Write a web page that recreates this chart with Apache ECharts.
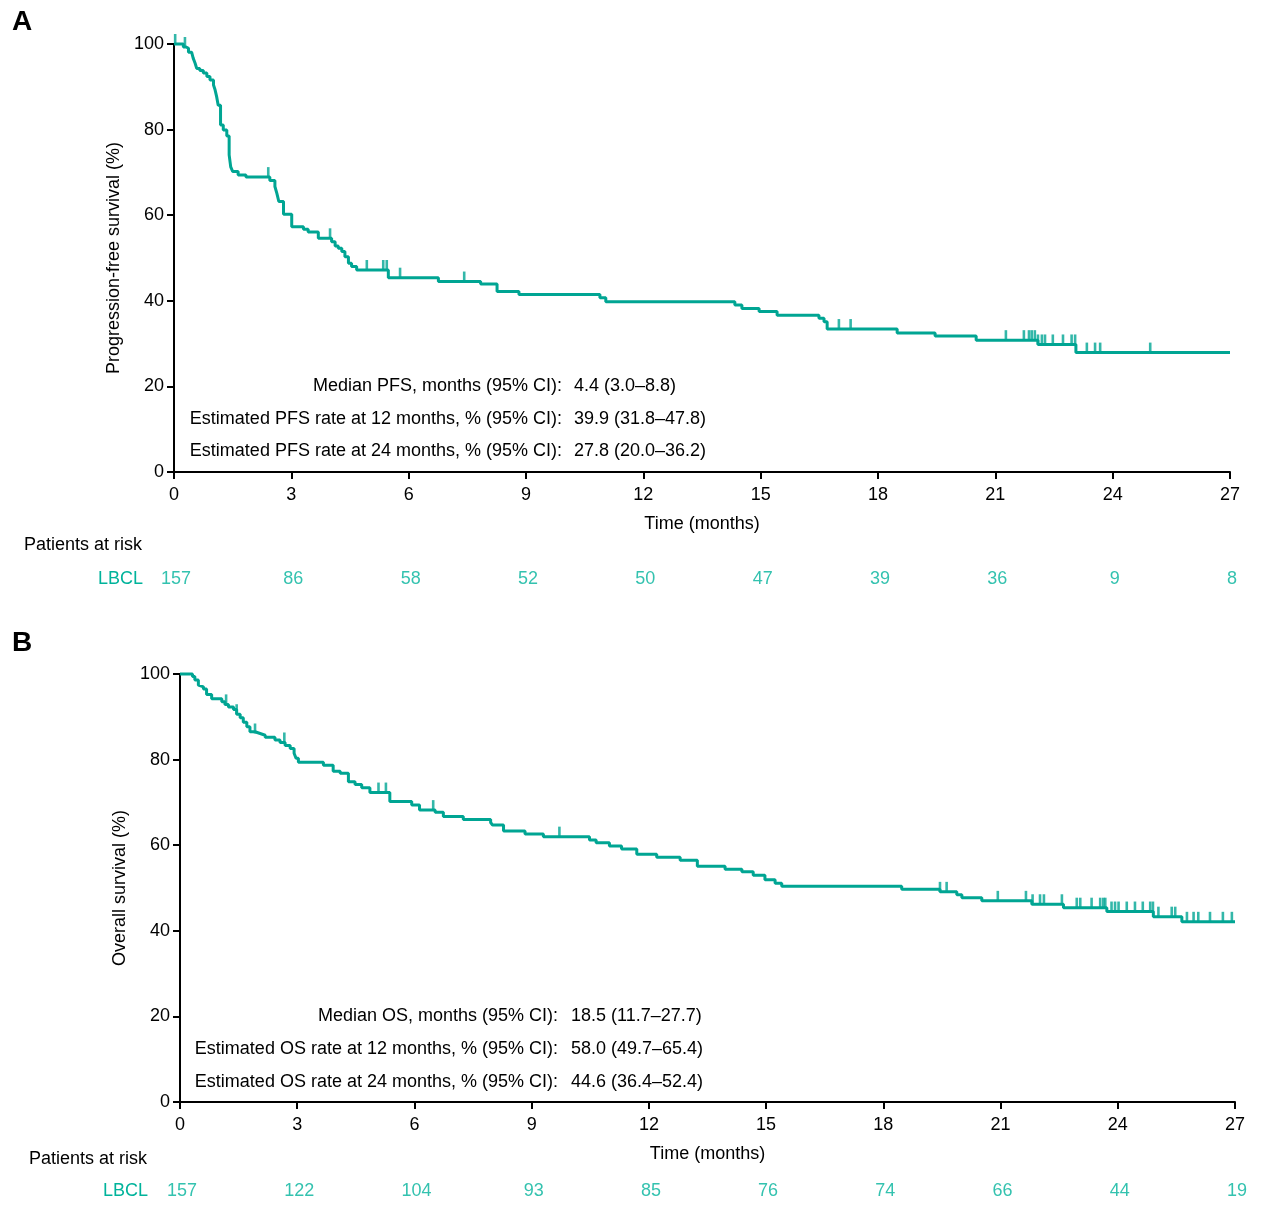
<!DOCTYPE html>
<html>
<head>
<meta charset="utf-8">
<script src="https://cdn.jsdelivr.net/npm/echarts@6/dist/echarts.min.js"></script>
<style>
html,body{margin:0;padding:0;background:#fff;}
#chart{width:1276px;height:1208px;}
</style>
</head>
<body>
<div id="chart"></div>
<script>
// ---------- DATA ----------
const xTicks = [0, 3, 6, 9, 12, 15, 18, 21, 24, 27];
const yTicks = [0, 20, 40, 60, 80, 100];

// Panel A: progression-free survival (step starts: time, survival %)
const pfsTime = [0, 0.24, 0.31, 0.37, 0.45, 0.49, 0.54, 0.58, 0.66, 0.75, 0.84, 0.92, 1.01, 1.05, 1.09, 1.13, 1.19, 1.26, 1.35, 1.41, 1.45, 1.50, 1.64, 1.84, 2.45, 2.58, 2.63, 2.68, 2.80, 3.01, 3.31, 3.43, 3.69, 4.03, 4.12, 4.20, 4.29, 4.37, 4.46, 4.54, 4.67, 5.48, 6.76, 7.84, 8.26, 8.82, 10.89, 11.04, 14.34, 14.52, 14.96, 15.42, 16.49, 16.62, 16.70, 18.49, 19.46, 20.51, 22.09, 23.06, 27.0];
const pfsSurv = [100, 99.3, 99.0, 98.1, 97.7, 96.7, 95.5, 94.3, 93.8, 93.2, 92.4, 91.6, 90.4, 89.3, 87.7, 85.7, 81.1, 79.9, 78.5, 74.1, 71.3, 70.2, 69.4, 68.9, 68.1, 66.7, 65.1, 63.2, 60.2, 57.3, 56.7, 56.1, 54.6, 53.8, 52.8, 52.3, 51.5, 50.3, 48.8, 48.0, 47.2, 45.4, 44.5, 43.9, 42.2, 41.5, 40.7, 39.8, 39.0, 38.2, 37.5, 36.6, 35.9, 35.1, 33.4, 32.5, 31.8, 30.8, 29.8, 27.9, 27.9];
const pfsCensor = [0.03, 0.28, 2.41, 3.99, 4.93, 5.35, 5.44, 5.78, 7.42, 17.0, 17.30, 21.27, 21.73, 21.86, 21.93, 22.01, 22.09, 22.19, 22.27, 22.47, 22.73, 22.95, 23.04, 23.34, 23.55, 23.68, 24.96];
const pfsRisk = [157, 86, 58, 52, 50, 47, 39, 36, 9, 8];

// Panel B: overall survival
const osTime = [0, 0.32, 0.38, 0.47, 0.51, 0.60, 0.68, 0.81, 1.07, 1.15, 1.24, 1.37, 1.45, 1.54, 1.62, 1.71, 1.79, 1.92, 2.05, 2.18, 2.43, 2.56, 2.69, 2.82, 2.92, 2.97, 3.03, 3.67, 3.92, 4.10, 4.31, 4.48, 4.65, 4.86, 5.37, 5.93, 6.13, 6.53, 6.74, 7.25, 7.95, 8.00, 8.28, 8.83, 9.30, 10.48, 10.65, 10.99, 11.30, 11.69, 12.20, 12.80, 13.24, 13.95, 14.38, 14.67, 14.97, 15.23, 15.40, 18.47, 19.45, 19.88, 20.01, 20.52, 21.80, 22.61, 23.72, 24.91, 25.64, 27.0];
const osSurv = [100, 99.4, 98.6, 97.4, 97.0, 96.5, 95.2, 94.2, 93.5, 92.9, 92.3, 91.7, 90.6, 89.8, 88.7, 87.7, 86.5, 86.1, 85.7, 85.2, 84.6, 84.0, 83.3, 82.6, 81.5, 80.3, 79.4, 78.7, 77.3, 76.8, 74.8, 74.2, 73.4, 72.3, 70.2, 69.4, 68.2, 67.7, 66.7, 66.0, 65.3, 64.7, 63.3, 62.6, 62.0, 61.2, 60.6, 59.8, 59.1, 57.9, 57.2, 56.5, 55.1, 54.4, 53.8, 53.0, 51.9, 51.1, 50.4, 49.7, 49.1, 48.4, 47.7, 47.0, 46.2, 45.4, 44.5, 43.3, 42.1, 42.1];
const osCensor = [1.18, 1.45, 1.92, 2.67, 5.08, 5.27, 6.48, 9.71, 19.45, 19.62, 20.93, 21.65, 21.82, 22.01, 22.11, 22.57, 22.95, 23.04, 23.33, 23.55, 23.63, 23.68, 23.84, 23.93, 24.02, 24.23, 24.44, 24.64, 24.83, 24.90, 25.04, 25.38, 25.47, 25.77, 25.94, 26.06, 26.36, 26.69, 26.92];
const osRisk = [157, 122, 104, 93, 85, 76, 74, 66, 44, 19];

const pfsNotes = [
  ['Median PFS, months (95% CI):', '4.4 (3.0\u20138.8)'],
  ['Estimated PFS rate at 12 months, % (95% CI):', '39.9 (31.8\u201347.8)'],
  ['Estimated PFS rate at 24 months, % (95% CI):', '27.8 (20.0\u201336.2)']
];
const osNotes = [
  ['Median OS, months (95% CI):', '18.5 (11.7\u201327.7)'],
  ['Estimated OS rate at 12 months, % (95% CI):', '58.0 (49.7\u201365.4)'],
  ['Estimated OS rate at 24 months, % (95% CI):', '44.6 (36.4\u201352.4)']
];

// ---------- BUILD ----------
const TEAL = '#00a593';
const TEAL_TXT = '#00b39b';
const FONT = '"Liberation Sans", Arial, sans-serif';
const FS = 18;

function survAt(times, surv, t) {
  let v = surv[0];
  for (let i = 0; i < times.length; i++) { if (times[i] <= t + 1e-9) v = surv[i]; }
  return v;
}
const pair = (a, b) => a.map((t, i) => [t, b[i]]);
const censorPts = (c, times, surv) => c.map(t => [t, survAt(times, surv, t)]);
const riskPts = r => xTicks.map((t, i) => [t, 0, r[i]]);

function xAxisPlot(gi, name) {
  return {
    gridIndex: gi, type: 'value', min: 0, max: 27, interval: 3,
    name: name, nameLocation: 'middle', nameGap: 43,
    nameTextStyle: { color: '#000', fontSize: FS, fontFamily: FONT },
    axisLine: { show: true, onZero: false, lineStyle: { color: '#000', width: 2 } },
    axisTick: { show: true, length: 7, lineStyle: { color: '#000', width: 2 } },
    axisLabel: { color: '#000', fontSize: FS, fontFamily: FONT, margin: 14 },
    splitLine: { show: false }
  };
}
function yAxisPlot(gi, name) {
  return {
    gridIndex: gi, type: 'value', min: 0, max: 100, interval: 20,
    name: name, nameLocation: 'middle', nameGap: 48, nameRotate: 90,
    nameTextStyle: { color: '#000', fontSize: FS, fontFamily: FONT },
    axisLine: { show: true, lineStyle: { color: '#000', width: 2 } },
    axisTick: { show: true, length: 7, lineStyle: { color: '#000', width: 2 } },
    axisLabel: { color: '#000', fontSize: FS, fontFamily: FONT, margin: 10 },
    splitLine: { show: false }
  };
}
function xAxisRisk(gi) {
  return { gridIndex: gi, type: 'value', min: 0, max: 27, interval: 3, show: false };
}
function yAxisRisk(gi) {
  return { gridIndex: gi, type: 'value', min: -1, max: 1, show: false };
}
function kmSeries(gi, data) {
  return {
    type: 'line', xAxisIndex: gi, yAxisIndex: gi, step: 'end', data: data,
    showSymbol: false, symbol: 'none', clip: false, animation: false,
    lineStyle: { color: TEAL, width: 3 }, z: 3
  };
}
function censorSeries(gi, data) {
  return {
    type: 'scatter', xAxisIndex: gi, yAxisIndex: gi, data: data, clip: false,
    symbol: 'rect', symbolSize: [2.6, 10], symbolOffset: [0, -5],
    itemStyle: { color: TEAL }, animation: false, z: 4
  };
}
function riskSeries(gi, data) {
  return {
    type: 'scatter', xAxisIndex: gi, yAxisIndex: gi, data: data, symbolSize: 1,
    itemStyle: { color: 'rgba(0,0,0,0)' }, animation: false,
    label: { show: true, position: 'inside', offset: [2, 1], color: TEAL_TXT, fontSize: FS, fontFamily: FONT,
      formatter: p => String(p.value[2]) }
  };
}
function txt(text, x, y, align, color, font) {
  return { type: 'text', x: x, y: y, style: { text: text, textAlign: align, textVerticalAlign: 'middle',
    fill: color || '#000', font: font || (FS + 'px ' + FONT) } };
}
function notes(arr, xr, xl, ys) {
  const out = [];
  arr.forEach((n, i) => { out.push(txt(n[0], xr, ys[i], 'right')); out.push(txt(n[1], xl, ys[i], 'left')); });
  return out;
}

const graphic = [
  txt('A', 12, 22, 'left', '#000', 'bold 28px ' + FONT),
  txt('B', 12, 643, 'left', '#000', 'bold 28px ' + FONT),
  txt('Patients at risk', 24, 545, 'left'),
  txt('Patients at risk', 29, 1159, 'left'),
  txt('LBCL', 143, 579, 'right', TEAL_TXT),
  txt('LBCL', 148, 1191, 'right', TEAL_TXT)
].concat(notes(pfsNotes, 562, 574, [386, 419, 451]))
 .concat(notes(osNotes, 558, 571, [1016, 1049, 1082]));

const option = {
  backgroundColor: '#fff',
  animation: false,
  grid: [
    { left: 174, top: 44, width: 1056, height: 428 },
    { left: 174, top: 568, width: 1056, height: 20 },
    { left: 180, top: 674, width: 1055, height: 428 },
    { left: 180, top: 1180, width: 1055, height: 20 }
  ],
  xAxis: [xAxisPlot(0, 'Time (months)'), xAxisRisk(1), xAxisPlot(2, 'Time (months)'), xAxisRisk(3)],
  yAxis: [yAxisPlot(0, 'Progression-free survival (%)'), yAxisRisk(1), yAxisPlot(2, 'Overall survival (%)'), yAxisRisk(3)],
  series: [
    kmSeries(0, pair(pfsTime, pfsSurv)),
    censorSeries(0, censorPts(pfsCensor, pfsTime, pfsSurv)),
    riskSeries(1, riskPts(pfsRisk)),
    kmSeries(2, pair(osTime, osSurv)),
    censorSeries(2, censorPts(osCensor, osTime, osSurv)),
    riskSeries(3, riskPts(osRisk))
  ],
  graphic: graphic
};

const chart = echarts.init(document.getElementById('chart'), null, { renderer: 'canvas' });
chart.setOption(option);
</script>
</body>
</html>
